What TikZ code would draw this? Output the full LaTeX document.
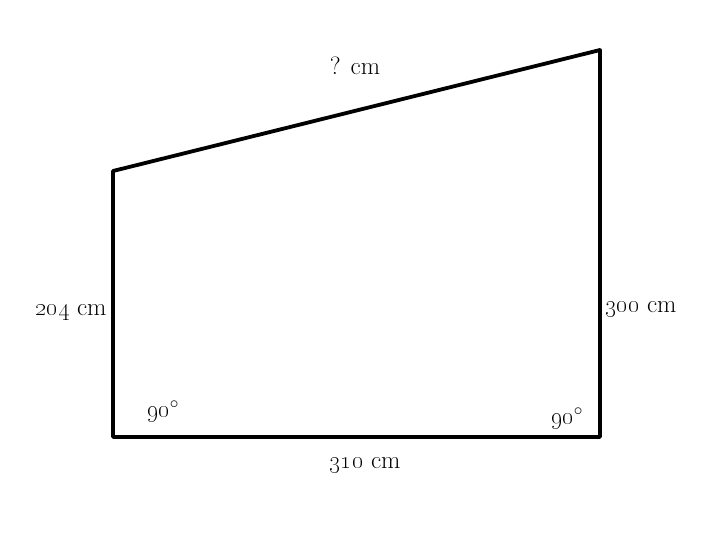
\documentclass[tikz,border=0pt]{standalone}
\begin{document}
\begin{tikzpicture}[x=1pt,y=-1pt,
  edge/.style={line width=3.8pt,line join=round,line cap=round},
  lbl/.style={font=\fontsize{25}{30}\selectfont,inner sep=0pt}]
\useasboundingbox (0,0) rectangle (720,539);
\coordinate (bl) at (113,437);
\coordinate (tl) at (113,171);
\coordinate (tr) at (600,50);
\coordinate (br) at (600,437);
\draw[edge] (bl) -- (tl) -- (tr) -- (br) -- cycle;
\node[lbl] (top) at (355,66) {? cm};
\node[lbl] (left) at (71,312) {\oldstylenums{204} cm};
\node[lbl] (right) at (641,309) {\oldstylenums{300} cm};
\node[lbl] (bottom) at (365,465) {\oldstylenums{310} cm};
\node[lbl] (angl) at (163,412) {\oldstylenums{90}$^\circ$};
\node[lbl] (angr) at (567,419) {\oldstylenums{90}$^\circ$};
\end{tikzpicture}
\end{document}
